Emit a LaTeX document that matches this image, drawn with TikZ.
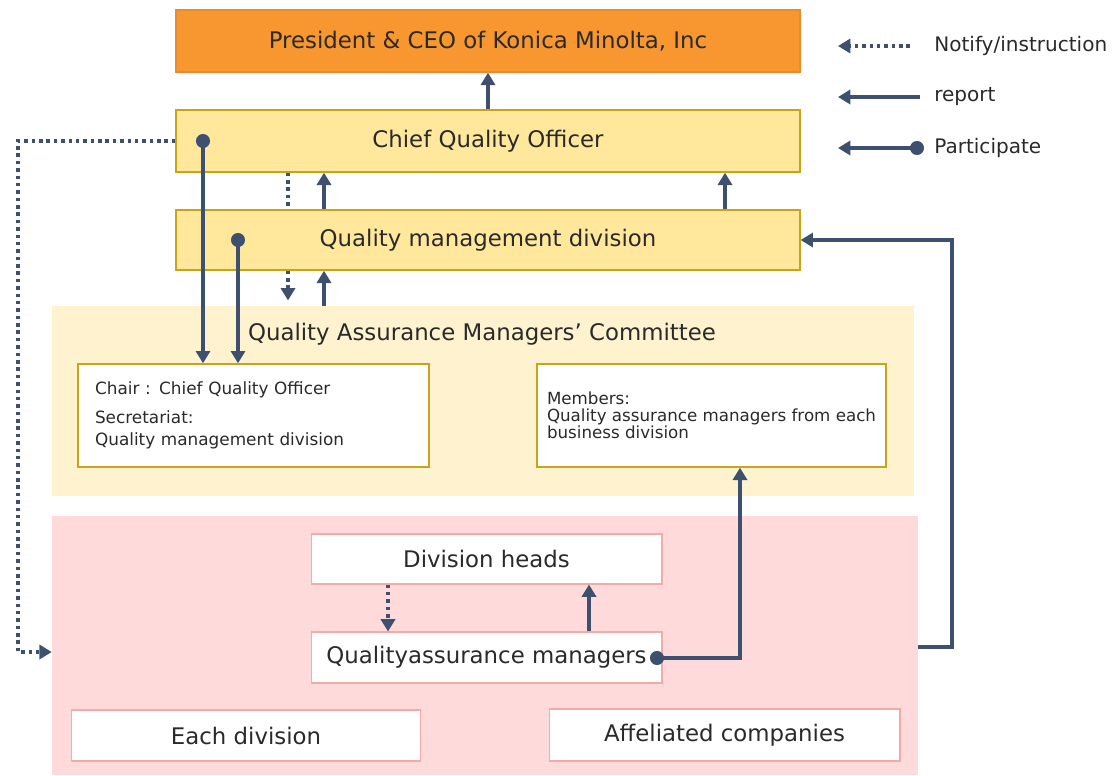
\documentclass[tikz,border=0pt]{standalone}
\usepackage{fontspec}
\setmainfont{DejaVu Sans}
\usetikzlibrary{arrows.meta}

\definecolor{lineblue}{HTML}{3D5070}
\definecolor{ceoorange}{HTML}{F8962F}
\definecolor{ceoedge}{HTML}{EE8A2A}
\definecolor{qyellow}{HTML}{FFE79C}
\definecolor{qedge}{HTML}{C9A41A}
\definecolor{commbg}{HTML}{FFF2CF}
\definecolor{pinkbg}{HTML}{FFDADA}
\definecolor{pinkedge}{HTML}{F5AAAA}
\definecolor{txt}{HTML}{2A2A2A}

\tikzset{
  topbox/.style={draw=qedge, fill=qyellow, line width=0.8pt, minimum width=12.48cm,
    minimum height=1.2cm, font=\fontsize{13}{15}\selectfont, text=txt},
  whitebox/.style={draw=qedge, fill=white, line width=0.8pt, text=txt},
  pinkbox/.style={draw=pinkedge, fill=white, line width=0.6pt, minimum width=7.02cm,
    minimum height=1.02cm, font=\fontsize{13}{15}\selectfont, text=txt},
  dot/.style={circle, fill=lineblue, inner sep=0pt, minimum size=8pt},
  report/.style={draw=lineblue, line width=2pt, -{Triangle[width=8pt,length=7pt]}},
  notify/.style={report, dash pattern=on 2pt off 2.2pt},
  participate/.style={draw=lineblue, line width=2pt, -{Triangle[width=8pt,length=7pt]}},
  legendtext/.style={anchor=west, font=\fontsize{11.4}{13}\selectfont, text=txt, inner sep=0pt}
}

\begin{document}
\begin{tikzpicture}[x=0.02cm, y=-0.02cm]
  \useasboundingbox (0,0) rectangle (1112,775);

  % background areas
  \node[fill=commbg, minimum width=17.24cm, minimum height=3.8cm, inner sep=0pt] (comm) at (483,401) {};
  \node[fill=pinkbg, minimum width=17.32cm, minimum height=5.18cm, inner sep=0pt] (pink) at (485,645.5) {};

  % top boxes
  \node[topbox, draw=ceoedge, fill=ceoorange, minimum height=1.24cm] (pres) at (488,41) {President \& CEO of Konica Minolta, Inc};
  \node[topbox, minimum height=1.24cm] (cqo) at (488,141) {Chief Quality Officer};
  \node[topbox] (qmd) at (488,240) {Quality management division};

  % committee
  \node[font=\fontsize{13}{15}\selectfont, text=txt] (commTitle) at (482,334) {Quality Assurance Managers' Committee};
  \node[whitebox, minimum width=7.02cm, minimum height=2.06cm, inner xsep=0.34cm, text width=6.34cm,
    align=left, font=\fontsize{9.6}{12.5}\selectfont] (chair) at (253.5,415.5)
    {Chair : Chief Quality Officer\\[4pt]Secretariat:\\Quality management division};
  \node[whitebox, minimum width=6.98cm, minimum height=2.06cm, inner xsep=2pt,
    align=left, font=\fontsize{9.5}{9.7}\selectfont] (members) at (711.5,415.5)
    {Members:\\Quality assurance managers from each\\business division};

  % divisions
  \node[pinkbox, minimum height=1.0cm] (heads) at (486.5,559) {Division heads};
  \node[pinkbox] (qam) at (486.5,657.5) {Qualityassurance managers};
  \node[pinkbox, minimum width=7.0cm] (eachDiv) at (246,735.5) {Each division};
  \node[pinkbox, minimum height=1.04cm] (affil) at (724.5,735) {Affeliated companies};

  % dots and helper coordinates
  \node[dot] (cqoDot) at (203,141) {};
  \node[dot] (qmdDot) at (238,240) {};
  \node[dot] (qamDot) at (657,658) {};
  \coordinate (colNotify) at (288,0);
  \coordinate (colReport) at (324,0);
  \coordinate (colRight) at (725,0);
  \coordinate (loopLeft) at (18,652);
  \coordinate (colMembers) at (740,0);
  \coordinate (loopRight) at (952,647);
  \coordinate (colDown) at (388,0);
  \coordinate (colUp) at (589,0);

  % connectors
  \draw[report] (cqo.north) -- (pres.south);
  \draw[report] (qmd.north -| colReport) -- (cqo.south -| colReport);
  \draw[report] (qmd.north -| colRight) -- (cqo.south -| colRight);
  \draw[notify, -] (cqo.south -| colNotify) -- (qmd.north -| colNotify);
  \draw[notify, shorten >=3pt] (qmd.south -| colNotify) -- (comm.north -| colNotify);
  \draw[report] (comm.north -| colReport) -- (qmd.south -| colReport);
  \draw[participate] (cqoDot.center) -- (chair.north -| cqoDot);
  \draw[participate] (qmdDot.center) -- (chair.north -| qmdDot);
  \draw[notify] (cqo.west) -| (loopLeft) -- (loopLeft -| pink.west);
  \draw[participate] (qamDot.center) -| (members.south -| colMembers);
  \draw[report] (pink.east |- loopRight) -- (loopRight) |- (qmd.east);
  \draw[notify] (heads.south -| colDown) -- (qam.north -| colDown);
  \draw[report] (qam.north -| colUp) -- (heads.south -| colUp);

  % legend
  \node[legendtext] (lgNotify) at (934,46) {Notify/instruction};
  \node[legendtext] (lgReport) at (934,97) {report};
  \node[legendtext] (lgPart) at (934,148) {Participate};
  \coordinate (lgNotifyA) at (910,46);
  \coordinate (lgNotifyB) at (838,46);
  \coordinate (lgReportA) at (920,97);
  \coordinate (lgReportB) at (838,97);
  \node[dot] (lgDot) at (917,148) {};
  \coordinate (lgPartB) at (838,148);
  \draw[notify] (lgNotifyA) -- (lgNotifyB);
  \draw[report] (lgReportA) -- (lgReportB);
  \draw[participate] (lgDot.center) -- (lgPartB);
\end{tikzpicture}
\end{document}
